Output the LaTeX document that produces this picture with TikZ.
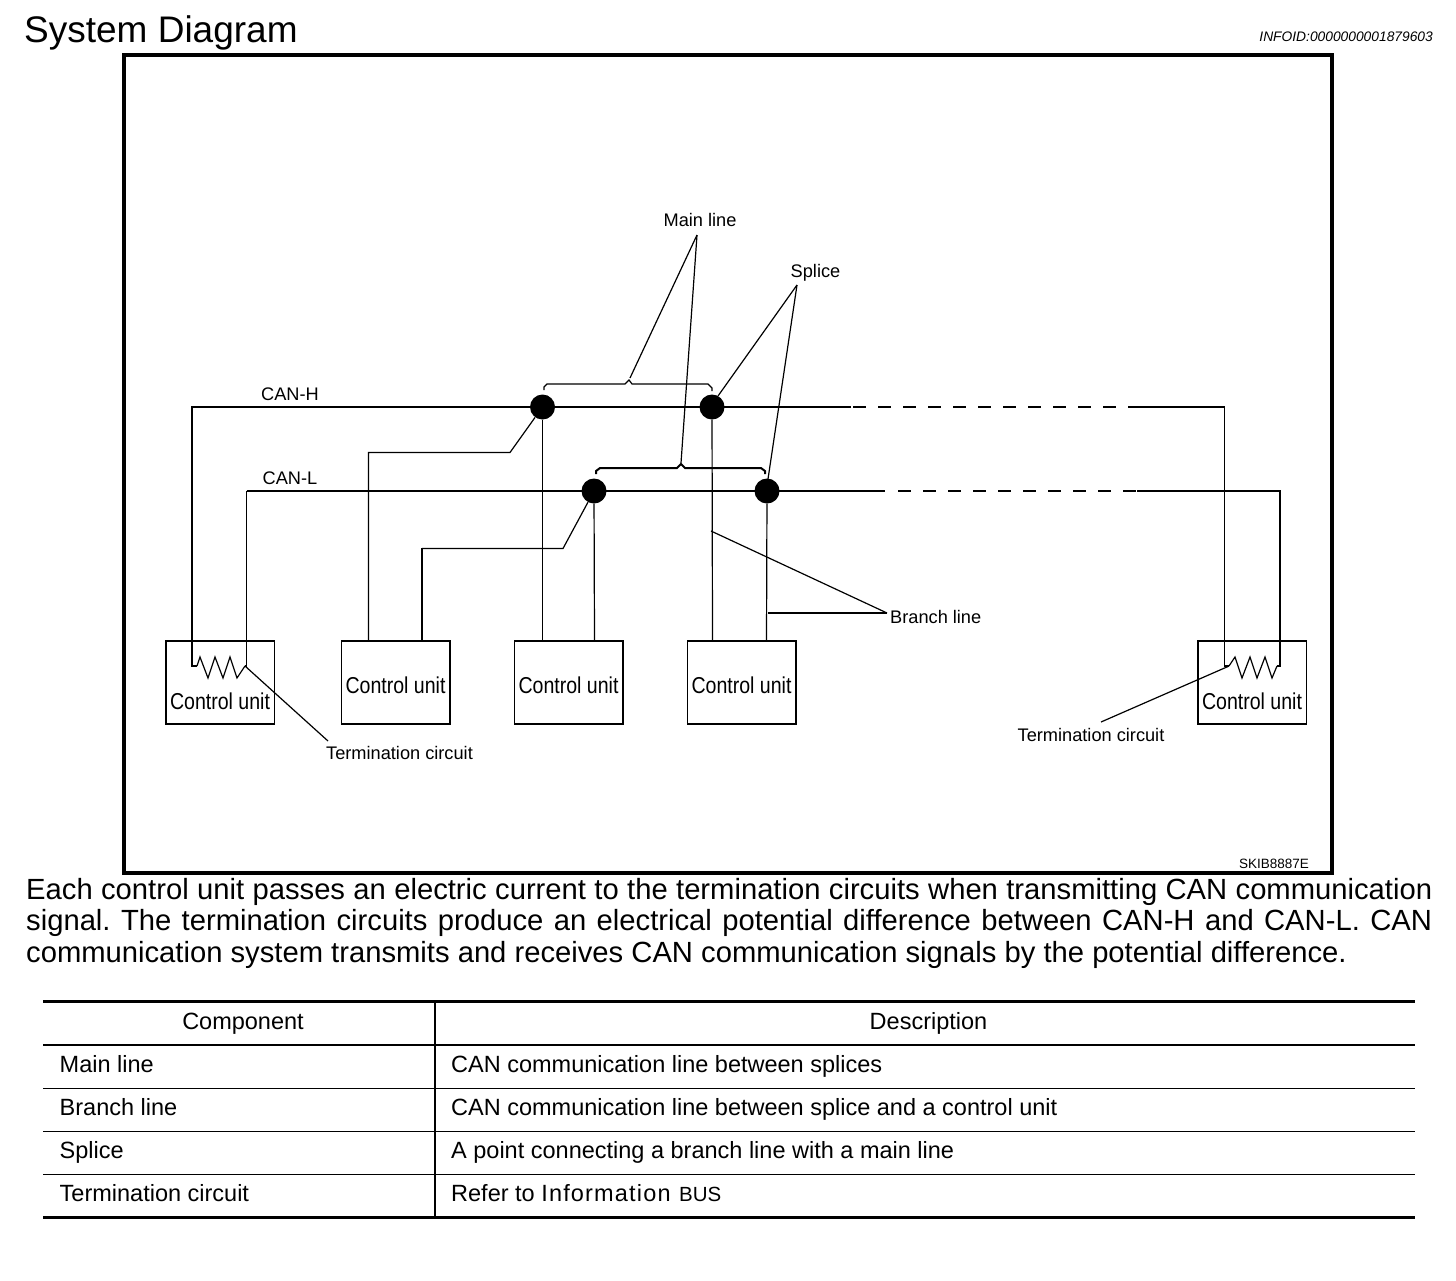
\documentclass[tikz,border=0pt]{standalone}
\usepackage{fontspec}
\setmainfont{Liberation Sans}
\newfontface\narrowface[FakeStretch=0.85]{Liberation Sans}
\newcommand{\spacedword}[1]{{\addfontfeatures{LetterSpace=5}#1}}
\usepackage{tikz}

\tikzset{
	mainwire/.style={line width=2pt},
	dashwire/.style={line width=2pt, dash pattern=on 13pt off 12pt},
	branchwire/.style={line width=1.2pt},
	leader/.style={line width=1.2pt},
	splice/.style={circle, fill=black, minimum size=25pt, inner sep=0pt},
	unitbox/.style={draw, line width=1.5pt, minimum width=108.5pt, minimum height=83pt, inner sep=0pt},
	unittext/.style={font=\fontsize{23}{23}\narrowface, inner sep=0pt},
	smalllabel/.style={font=\fontsize{18.2}{18.2}\selectfont, inner sep=0pt},
	celltext/.style={font=\fontsize{23.5}{23.5}\selectfont, inner sep=0pt},
}

\begin{document}
\begin{tikzpicture}[x=1pt, y=-1pt]
	\useasboundingbox (0,0) rectangle (1456,1280);
	\node[font=\fontsize{37}{37}\selectfont, inner sep=0pt, anchor=west] (title) at (24,32.5) {System Diagram};
	\node[font=\fontsize{13.8}{14}\selectfont\itshape, inner sep=0pt, anchor=east] (infoid) at (1433,37) {INFOID:0000000001879603};
	\node[draw, line width=4pt, minimum width=1208pt, minimum height=818pt, inner sep=0pt] (frame) at (728,464) {};
	\node[font=\fontsize{13.5}{14}\selectfont, inner sep=0pt, anchor=east] (figcode) at (1309,864) {SKIB8887E};

	% control units
	\foreach \n/\x/\ty in {a/220/701, b/395.5/685, c/568.5/685, d/741.5/685, e/1252/701} {
		\node[unitbox] (unit\n) at (\x,682.5) {};
		\node[unittext] (text\n) at (\x,\ty) {Control unit};
	}

	% splices
	\node[splice] (sa) at (542.5,407) {};
	\node[splice] (sb) at (712,407) {};
	\node[splice] (sc) at (594,491) {};
	\node[splice] (sd) at (767,491) {};

	% free ends of the wires
	\coordinate (hleft) at (192,407);
	\coordinate (hsolida) at (851,407);
	\coordinate (hdasha) at (853,407);
	\coordinate (hdashb) at (1116,407);
	\coordinate (hsolid) at (1128,407);
	\coordinate (hright) at (1224.5,407);
	\coordinate (lleft) at (246.5,491);
	\coordinate (lsolid) at (885,491);
	\coordinate (ldasha) at (898,491);
	\coordinate (ldashb) at (1136,491);
	\coordinate (lsolidb) at (1137,491);
	\coordinate (lright) at (1280,491);
	\coordinate (ra) at (197,666);
	\coordinate (rb) at (245,666);
	\coordinate (rc) at (1229,666);
	\coordinate (rd) at (1277,666);

	% CAN-H and CAN-L
	\draw[mainwire] (ra) -- (192,666) -- (hleft) -- (hsolida);
	\draw[dashwire] (hdasha) -- (hdashb);
	\draw[mainwire] (hsolid) -- (hright);
	\draw[branchwire] (hright) -- (1224.5,666) -- (rc);
	\draw[branchwire] (rb) -- (246.5,666) -- (lleft);
	\draw[mainwire] (lleft) -- (lsolid);
	\draw[dashwire] (ldasha) -- (ldashb);
	\draw[mainwire] (lsolidb) -- (lright) -- (1280,666) -- (rd);

	% terminations
	\draw[branchwire] (ra) -- ++(3,-9) -- ++(8,21) -- ++(7,-21) -- ++(8,21) -- ++(7,-21) -- ++(7,21) -- (rb);
	\draw[branchwire] (rc) -- ++(6,-9) -- ++(7,21) -- ++(8,-21) -- ++(7,21) -- ++(8,-21) -- ++(7,21) -- (rd);

	% branches
	\foreach \s/\xx in {sa/542.5, sb/712.5, sc/594.5, sd/766.5} {
		\draw[branchwire] (\s) -- (\xx,641);
	}
	\draw[branchwire] (sa) -- (510,452.5) -- (368.5,452.5) -- (368.5,641);
	\draw[branchwire] (sc) -- (563,548.5) -- (422,548.5);
	\draw[mainwire] (422,547.9) -- (422,641);

	% braces
	\draw[branchwire] (544,390) -- (544,387) -- (547,384) -- (625,384) -- (629,380) -- (632,384) -- (708,384) -- (712,388) -- (712,391);
	\draw[mainwire] (596,474) -- (596,471) -- (600,468) -- (677,468) -- (681,464) -- (685,468) -- (761,468) -- (765,471) -- (765,474);

	% labels and leaders
	\node[smalllabel] (mainlabel) at (700,220) {Main line};
	\node[smalllabel] (splicelabel) at (815.5,272.5) {Splice};
	\node[smalllabel, anchor=west] (branchlabel) at (890,617) {Branch line};
	\node[smalllabel] (canh) at (290,394.5) {CAN-H};
	\node[smalllabel] (canl) at (290,478.5) {CAN-L};
	\node[smalllabel] (terma) at (399.5,753) {Termination circuit};
	\node[smalllabel] (termb) at (1091,735) {Termination circuit};
	\coordinate (mainend) at (697,235);
	\coordinate (spliceend) at (797,285);
	\coordinate (branchend) at (887,613);
	\draw[leader] (mainend) -- (630,378);
	\draw[leader] (mainend) -- (681,463);
	\draw[leader] (spliceend) -- (718,396);
	\draw[leader] (spliceend) -- (768,479);
	\draw[leader] (branchend) -- (711,531);
	\draw[leader] (branchend) -- (768,613);
	\draw[leader] (rb) -- (328,741);
	\draw[leader] (1228,666.5) -- (1101,722);

	% paragraph
	\node[font=\fontsize{29.2}{31.5}\selectfont, inner sep=0pt, text width=1406pt, align=justify, anchor=north west] (para) at (26,878) {\frenchspacing Each control unit passes an electric current to the termination circuits when transmitting CAN communication signal. The termination circuits produce an electrical potential difference between CAN-H and CAN-L. CAN communication system transmits and receives CAN communication signals by the potential difference.};

	% table
	\coordinate (tl) at (43,1001);
	\coordinate (tr) at (1415,1001);
	\coordinate (bl) at (43,1217);
	\coordinate (br) at (1415,1217);
	\draw[line width=3pt] (tl) -- (tr);
	\draw[line width=3pt] (bl) -- (br);
	\draw[line width=2pt] (43,1045) -- (1415,1045);
	\foreach \y in {1088, 1131, 1174} {
		\draw[line width=1pt] (43,\y) -- (1415,\y);
	}
	\draw[line width=1.5pt] (435,1001) -- (435,1217);
	\node[celltext, anchor=base] (headc) at (243,1029) {Component};
	\node[celltext, anchor=base] (headd) at (928.5,1029) {Description};
	\foreach \n/\y/\a/\b in {one/1072/Main line/CAN communication line between splices, two/1115/Branch line/CAN communication line between splice and a control unit, three/1158/Splice/A point connecting a branch line with a main line, four/1201/Termination circuit/Refer to \spacedword{Information}\hspace{2pt} {\fontsize{20.5}{20.5}\selectfont BUS}} {
		\node[celltext, anchor=base west] (left\n) at (59.5,\y) {\a};
		\node[celltext, anchor=base west] (right\n) at (451,\y) {\b};
	}
\end{tikzpicture}
\end{document}
